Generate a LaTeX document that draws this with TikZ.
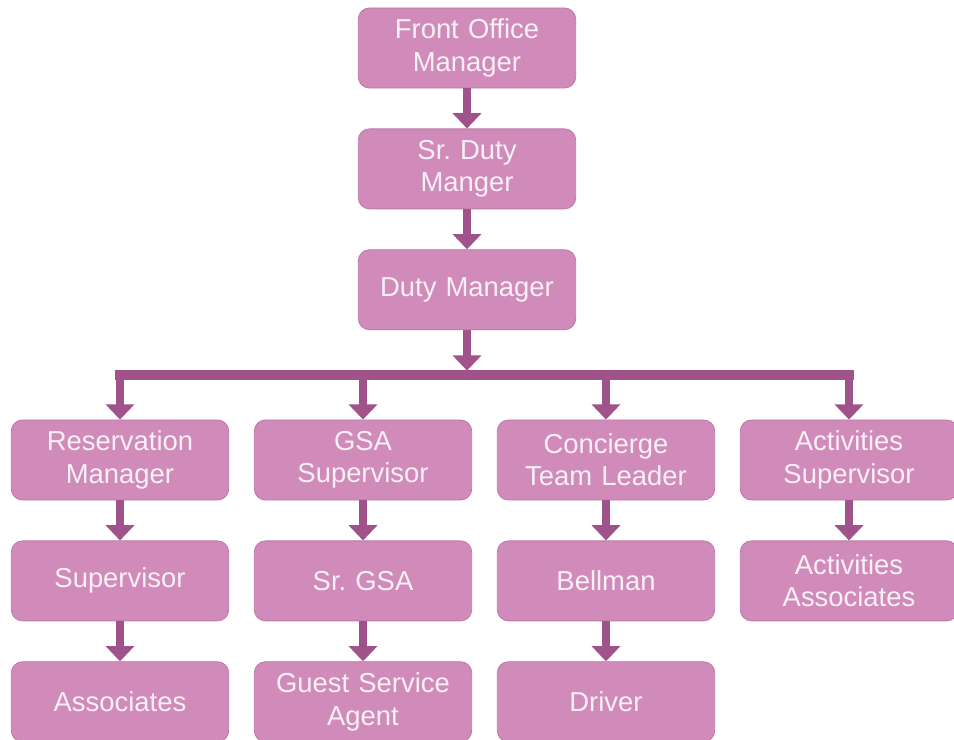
\documentclass[tikz,border=0pt]{standalone}
\usepackage{fontspec}
\setmainfont{Liberation Sans}
\usetikzlibrary{arrows.meta, positioning, calc}

\definecolor{boxpink}{HTML}{D18BBB}
\definecolor{boxedge}{HTML}{BF79A9}
\definecolor{linkpurple}{HTML}{A0528A}
\definecolor{labelwhite}{HTML}{F8F0F5}
\frenchspacing

\begin{document}
\begin{tikzpicture}[
  x=0.025cm, y=-0.025cm,
  node distance=1cm and 0.65cm,
  post/.style={rectangle, rounded corners=0.28cm, draw=boxedge, line width=0.6pt, fill=boxpink, text=labelwhite, minimum width=5.4cm, minimum height=2cm, text width=5.2cm, align=center, font=\fontsize{19.5}{23}\selectfont},
  arrow/.style={-{Triangle[width=0.7cm, length=0.38cm]}, draw=linkpurple, fill=linkpurple, line width=0.2cm},
  bus/.style={draw=linkpurple, line width=0.23cm, line cap=rect},
]
\useasboundingbox (0,0) rectangle (954,740);

% Top chain
\node[post] (fom) at (467,48) {Front Office\\Manager};
\node[post, below=of fom] (sdm) {Sr. Duty\\Manger};
\node[post, below=of sdm] (dm) {Duty Manager};

% Department heads
\node[post] (res) at (120,460) {Reservation\\Manager};
\node[post] (gsa) at (363,460) {GSA\\Supervisor};
\node[post] (con) at (606,460) {Concierge\\Team Leader};
\node[post] (act) at (849,460) {Activities\\Supervisor};

% Staff
\node[post, below=of res] (sup) {Supervisor};
\node[post, below=of sup] (asc) {Associates};
\node[post, below=of gsa] (srgsa) {Sr. GSA};
\node[post, below=of srgsa] (agent) {Guest Service\\Agent};
\node[post, below=of con] (bell) {Bellman};
\node[post, below=of bell] (drv) {Driver};
\node[post, below=of act] (actasc) {Activities\\Associates};

% Connections
\coordinate (split) at (467,375);
\draw[arrow] (fom) -- (sdm);
\draw[arrow] (sdm) -- (dm);
\draw[arrow, shorten >=0.11cm] (dm) -- (split);
\draw[bus] (split -| res) -- (split -| act);
\draw[arrow] (split -| res) -- (res);
\draw[arrow] (split -| gsa) -- (gsa);
\draw[arrow] (split -| con) -- (con);
\draw[arrow] (split -| act) -- (act);

\draw[arrow] (res) -- (sup);
\draw[arrow] (sup) -- (asc);
\draw[arrow] (gsa) -- (srgsa);
\draw[arrow] (srgsa) -- (agent);
\draw[arrow] (con) -- (bell);
\draw[arrow] (bell) -- (drv);
\draw[arrow] (act) -- (actasc);

\end{tikzpicture}
\end{document}
